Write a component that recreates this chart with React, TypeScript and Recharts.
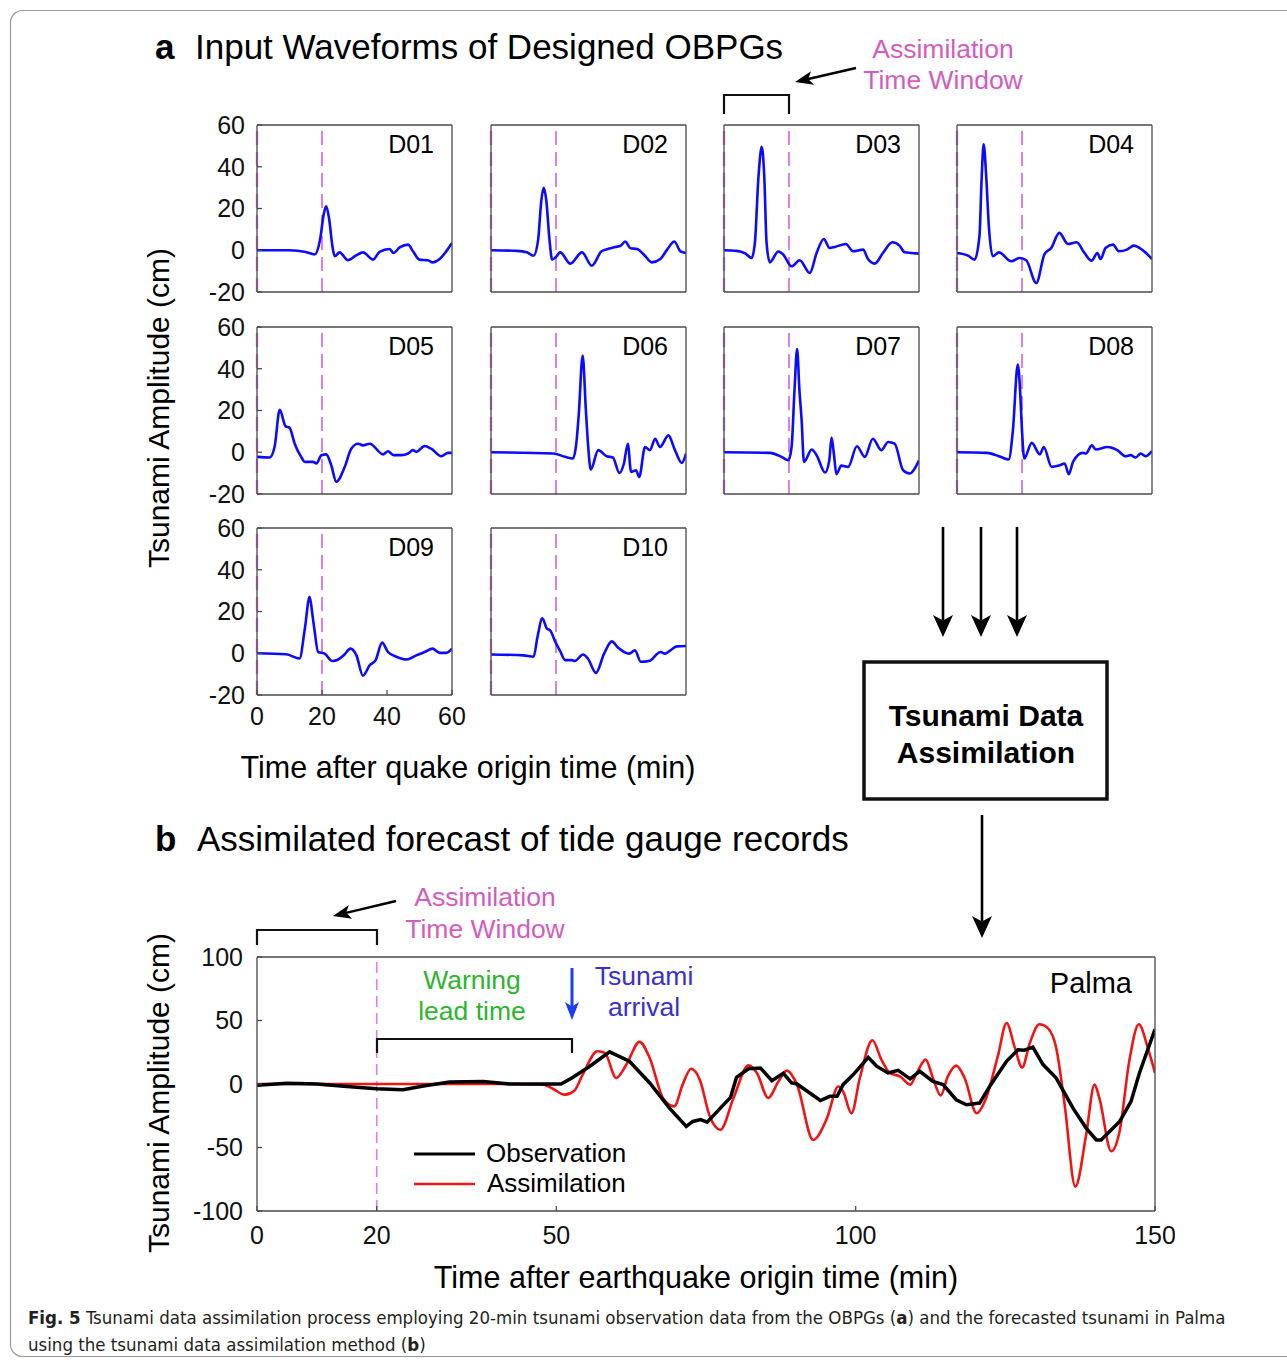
import React from 'react'
import { LineChart, Line, XAxis, YAxis, ReferenceLine } from 'recharts'

type Pt = [number, number]

const FONT = '"Liberation Sans", Arial, Helvetica, sans-serif'
const CAPTION_FONT = '"Liberation Sans Narrow", "DejaVu Sans Condensed", "Open Sans", sans-serif'
const AXIS = '#4a4a4a'
const WAVE = '#0b0bff'
const WINDOW = '#de7fe6'
const PINK = '#d45bbf'
const OBS = '#000000'
const ASSIM = '#f01414'

// panel a: time (min) / amplitude (cm)
const gaugeNames = ['D01', 'D02', 'D03', 'D04', 'D05', 'D06', 'D07', 'D08', 'D09', 'D10']
const gaugeTimeTicks = [0, 20, 40, 60]
const gaugeAmpTicks = [-20, 0, 20, 40, 60]

const d01: Pt[] = [[0, 0], [10, 0], [15, -0.8], [17.7, -2], [19.5, 6], [20.5, 17], [21.3, 21], [22.2, 15], [23.2, 2], [23.9, -2.9], [25.4, -1], [28, -4.8], [30.5, -2.5], [32.6, -1], [35.7, -4.5], [37.7, -0.8], [40.8, 0.6], [42, -1.3], [43.9, 1.4], [46.5, 2.7], [48, -0.5], [50, -4.5], [52.6, -4.8], [54.1, -5.8], [56.2, -4.2], [58, -1], [60, 3.5]]
const d02: Pt[] = [[0, 0], [8, -0.3], [11, -1], [13.1, -2.6], [14.5, 5], [15.5, 24], [16.2, 29.9], [17, 24], [18, 5], [18.8, -4.5], [19.8, -3.5], [21.3, -1], [24.4, -6.4], [28, -1], [31, -7.4], [34, -0.5], [36, 0.6], [38.2, 1.6], [39.8, 2], [41.3, 4.2], [42.9, 1], [45, 0.6], [47, -2], [49.5, -5.8], [52.1, -4.2], [54.2, 0.3], [56.4, 4.2], [58.3, -0.5], [60, -1.3]]
const d03: Pt[] = [[0, 0], [3.9, -0.3], [6.5, -1.5], [8.5, -3.7], [9.5, 3.5], [10.6, 35], [11.6, 49.6], [12.4, 35], [13.1, 3.5], [14.1, -5.8], [16.7, -0.6], [18.2, -2], [20.8, -7.7], [23.3, -4.8], [26.4, -10.9], [28.5, -1.3], [30.7, 5.4], [32.5, 1.1], [34.1, 1.6], [37.5, 3], [39.7, -0.5], [42.8, 0.3], [44.3, -4.2], [46.4, -6.4], [48.9, -1.3], [51.8, 3.8], [54, 2.2], [55.6, -1], [57.6, -1.3], [60, -1.6]]
const d04: Pt[] = [[0, -1.3], [3.4, -2.6], [5.4, -4.5], [6.9, 6.6], [7.6, 35], [8.2, 50.7], [9, 35], [9.8, 11.5], [11, -2.9], [12.9, -1], [16.7, -5.3], [19.3, -3.7], [21.3, -4.8], [24.4, -15.7], [26.9, -2], [29, 1.1], [31.5, 8.3], [34.1, 3], [36.8, 3.8], [39.1, -1], [41.4, -5], [43.2, -1.3], [44.2, -4.2], [45.7, 1.1], [48, 2.7], [49.8, -0.5], [52.3, 0.3], [54.4, 2.2], [56.9, 0.3], [60, -4.2]]
const d05: Pt[] = [[0, -2.2], [3.9, -2.5], [5.4, 2.5], [7, 20.3], [8.8, 12.4], [10, 11.8], [11.6, 4.1], [13.5, -2], [14.7, -4.6], [17.2, -4.6], [18.3, -5.4], [19.8, -1.4], [21.3, -1], [22.8, -6], [24.4, -14.1], [27, -7], [29, 1.7], [31.1, 4.1], [32.6, 3.3], [34.7, 4.1], [38.8, -1], [40.3, 0.5], [42, -1.4], [44.4, -1.4], [46.5, -0.6], [48, 1], [49, 0.2], [51.6, 3], [53.6, 1.7], [56.7, -1.9], [58.8, -0.3], [60, -0.3]]
const d06: Pt[] = [[0, 0], [19.2, -0.6], [22.8, -2.2], [25.2, -3], [26.3, 5], [27, 18], [28.2, 46.3], [29.2, 20], [29.8, 5], [30.7, -8.3], [33, 1], [35.6, -1.9], [37.5, -2.5], [39.5, -9.9], [40.9, -5.4], [42.1, 4.1], [43.1, -9.4], [44.6, -8.6], [45.6, -11.8], [47.4, 2.5], [48.9, 1], [50.5, 6.5], [52, 2.5], [54.6, 8.1], [56.6, 1], [58.7, -5.1], [60, -0.6]]
const d07: Pt[] = [[0, 0], [14.1, -0.3], [17.7, -2.2], [19.8, -3.8], [20.8, 2.5], [21.7, 30], [22.5, 49.4], [23.2, 30], [23.9, 15], [24.6, -4.6], [27, 1.3], [28.5, -1.4], [31.1, -9.7], [32.4, -3.8], [33.1, 7], [33.8, -0.6], [34.6, -10.5], [36.1, -6.4], [38.2, -7], [40.9, 2.9], [43.3, -2.2], [45.8, 6.5], [48.4, 1], [50.5, 4.9], [52.5, 4.1], [55.1, -8.6], [57.1, -10.2], [60, -3.8]]
const d08: Pt[] = [[0, 0], [9.3, -0.3], [13.4, -2.2], [15.9, -3.5], [17.2, 10.5], [18.7, 42], [19.4, 30], [20, 10.5], [20.7, -3], [23, 4.5], [25.5, -1], [26.7, 2.5], [29.1, -7], [31.6, -6.2], [33.1, -5.4], [34.4, -10.5], [35.7, -4.6], [38.7, -0.3], [39.7, -0.6], [41.5, 3.3], [42.7, 1.3], [46.3, 2.5], [49.3, 1], [51.9, -1.9], [53.4, -1.4], [55, -2.5], [56.5, -0.6], [58, -1.9], [60, 0.6]]
const d09: Pt[] = [[0, 0], [9, -0.5], [13.1, -2.5], [14.7, 11.5], [16.2, 27.1], [17.1, 18], [17.7, 11], [18.8, 0.6], [20.8, -0.2], [23.2, -3.7], [25, -3], [27, -0.5], [28.7, 2.2], [30.6, -1], [32.6, -10.8], [34.7, -5.7], [36.5, -3.3], [38.5, 5.1], [40.3, 0.6], [42.9, -1.7], [46, -3], [49, -1], [51.6, 0.6], [54, 2.2], [56.2, 0.2], [58.3, 0.2], [60, 2.2]]
const d10: Pt[] = [[0, -0.6], [10, -1], [13.1, -1.7], [14.3, 7.8], [15.8, 16.7], [17.2, 11.8], [18.2, 11], [19.8, 5.4], [21.3, 1], [22.8, -3.3], [24.8, -3.3], [25.8, -3.7], [28.3, -0.6], [29.8, -2.5], [32.3, -9.4], [34.8, -0.2], [37.2, 5.7], [38.9, 3], [41.5, 0.2], [42.5, -0.2], [44.3, 1.4], [46.1, -4.1], [48.6, -3.7], [52.2, 0.6], [53.5, -0.2], [55.2, 1.4], [57.2, 3.3], [60, 3.5]]

const gaugeWaves = [d01, d02, d03, d04, d05, d06, d07, d08, d09, d10]

// panel b: Palma tide gauge
const palmaTimeTicks = [0, 20, 50, 100, 150]
const palmaAmpTicks = [-100, -50, 0, 50, 100]

const palmaObserved: Pt[] = [[0, -1], [5, 0.5], [10, 0], [15, -2], [20, -3.7], [24.4, -4.5], [27.8, -1.5], [32.2, 1.6], [37.8, 2], [42.2, 0], [46.7, 0], [50.8, 0], [52.8, 5.3], [55.6, 14], [58.9, 25.3], [62.2, 17.9], [65.6, 0.8], [68.9, -19], [71.7, -33.4], [72.8, -29.5], [74.1, -28], [75.2, -30], [77.4, -19], [79.1, -10.5], [80.1, 5.3], [82.1, 12], [84.1, 12.6], [86, 2.6], [87.9, 8.4], [89.3, 0.8], [90.2, 0], [94.1, -13], [95.7, -9.7], [96.9, -9.7], [97.9, -0.5], [99.6, 7.4], [102.1, 21], [103.5, 14], [105.4, 8.7], [107.1, 10.8], [109.1, 4], [110.7, 10], [112.9, 2], [114.6, -0.5], [116.8, -12.4], [118.5, -16.3], [120.7, -15], [122.4, -1.8], [125.2, 17.9], [127.1, 27], [128.2, 26.6], [129.6, 29], [131.3, 15.3], [133.5, 4.7], [136.3, -19], [138.5, -34.7], [140.2, -44], [141, -44], [144.1, -29.5], [146, -13.7], [147.4, 8.7], [150, 43]]
const palmaAssimilated: Pt[] = [[0, 0], [10, 0], [20, 0], [30, 0], [40, 0], [47.8, -0.5], [49.4, -3.7], [51.4, -8.4], [53, -5.3], [54.4, 7.4], [56.9, 25.8], [58.1, 24.5], [60, 4.7], [61.7, 15.3], [63.9, 33.2], [65.6, 20.5], [67.8, -11], [69.7, -17.6], [71.1, -0.5], [72.5, 12], [74, 3], [75.6, -25], [77.4, -36], [79.6, -11], [82.1, 14.7], [83.5, 8.7], [85.4, -11], [87.1, 2], [88.5, 10.5], [90.2, -0.5], [92.9, -44], [95.2, -27], [97.1, -2], [97.9, -5.8], [99.3, -23], [100.7, 4.7], [102.8, 34.5], [104.3, 19.2], [105.7, 8.7], [107.4, 6], [109.1, -0.5], [110.2, 8.7], [111.7, 19.2], [112.9, 4.7], [114.2, -9], [115.4, 6], [116.8, 14.5], [118.2, 4.7], [120.2, -23], [121.8, -11], [123.8, 23], [125.2, 48], [126.6, 28.4], [127.8, 13], [129.1, 32.4], [130.7, 47], [132.1, 44], [133.5, 28.4], [134.9, -16], [136.7, -80.8], [138.5, -40], [139.9, -0.5], [140.7, -11], [142.7, -53], [144.1, -37], [145.7, 18], [147.3, 47], [148.8, 28.4], [150, 8.7]]

const toRows = (pts: Pt[]) => pts.map(([t, v]) => ({ t, v }))

// plot-area placement of the small panels
const colLeft = [257, 491, 724, 957]
const rowTop = [125, 327, 528]
const PW = 195
const PH = 167

const tickFont = { fontSize: 25, fill: '#111', fontFamily: FONT }

// MATLAB-style box: bottom/left axes carry labels, top/right 1px axes only draw frame + inward ticks
function Gauge({ idx }: { idx: number }) {
  const row = Math.floor(idx / 4)
  const col = idx % 4
  const showY = col === 0
  const showX = col === 0 && row === 2
  const rows = toRows(gaugeWaves[idx])
  return (
    <div style={{ position: 'absolute', left: colLeft[col] - 60, top: rowTop[row] - 20 }}>
      <LineChart width={60 + PW + 20} height={20 + PH + 45} data={rows}
        margin={{ top: 19, right: 19, bottom: 0, left: 0 }}>
        <XAxis dataKey="t" type="number" domain={[0, 60]} ticks={gaugeTimeTicks} interval={0} allowDataOverflow
          height={45} stroke={AXIS} strokeWidth={1.3} tickSize={-5} tickMargin={17}
          tick={showX ? tickFont : false} />
        <XAxis xAxisId="top" orientation="top" dataKey="t" type="number" domain={[0, 60]} ticks={gaugeTimeTicks}
          interval={0} allowDataOverflow height={1} stroke={AXIS} strokeWidth={1.3} tickSize={-5} tick={false} />
        <YAxis type="number" domain={[-20, 60]} ticks={gaugeAmpTicks} interval={0} allowDataOverflow width={60}
          stroke={AXIS} strokeWidth={1.3} tickSize={-5} tickMargin={17} tick={showY ? tickFont : false} />
        <YAxis yAxisId="right" orientation="right" type="number" domain={[-20, 60]} ticks={gaugeAmpTicks}
          interval={0} allowDataOverflow width={1} stroke={AXIS} strokeWidth={1.3} tickSize={-5} tick={false} />
        <ReferenceLine x={0} stroke={WINDOW} strokeWidth={2.4} strokeDasharray="14 7" />
        <ReferenceLine x={20} stroke={WINDOW} strokeWidth={2} strokeDasharray="14 7" />
        <Line xAxisId="top" yAxisId="right" dataKey="v" stroke="none" dot={false} activeDot={false}
          isAnimationActive={false} />
        <Line dataKey="v" type="monotone" stroke={WAVE} strokeWidth={2.6} dot={false} isAnimationActive={false} />
      </LineChart>
    </div>
  )
}

function Palma() {
  const obs = toRows(palmaObserved)
  return (
    <div style={{ position: 'absolute', left: 257 - 70, top: 957 - 20 }}>
      <LineChart width={70 + 898 + 20} height={20 + 254 + 50} margin={{ top: 19, right: 19, bottom: 0, left: 0 }}>
        <XAxis dataKey="t" type="number" domain={[0, 150]} ticks={palmaTimeTicks} interval={0} allowDataOverflow
          height={50} stroke={AXIS} strokeWidth={1.3} tickSize={-5} tickMargin={20} tick={tickFont} />
        <XAxis xAxisId="top" orientation="top" dataKey="t" type="number" domain={[0, 150]} ticks={palmaTimeTicks}
          interval={0} allowDataOverflow height={1} stroke={AXIS} strokeWidth={1.3} tickSize={-5} tick={false} />
        <YAxis type="number" domain={[-100, 100]} ticks={palmaAmpTicks} interval={0} allowDataOverflow width={70}
          stroke={AXIS} strokeWidth={1.3} tickSize={-5} tickMargin={19} tick={tickFont} />
        <YAxis yAxisId="right" orientation="right" type="number" domain={[-100, 100]} ticks={palmaAmpTicks}
          interval={0} allowDataOverflow width={1} stroke={AXIS} strokeWidth={1.3} tickSize={-5} tick={false} />
        <ReferenceLine x={20} stroke={WINDOW} strokeWidth={1.6} strokeDasharray="11 6" />
        <Line data={obs} xAxisId="top" yAxisId="right" dataKey="v" stroke="none" dot={false} activeDot={false}
          isAnimationActive={false} />
        <Line data={toRows(palmaAssimilated)} dataKey="v" type="monotone" stroke={ASSIM} strokeWidth={2.6}
          dot={false} isAnimationActive={false} />
        <Line data={obs} dataKey="v" type="linear" stroke={OBS} strokeWidth={3.5}
          dot={false} isAnimationActive={false} />
      </LineChart>
    </div>
  )
}

function Arrow({ x1, y1, x2, y2, color = '#000', width = 2.5, head = 20, half = 8 }:
  { x1: number; y1: number; x2: number; y2: number; color?: string; width?: number; head?: number; half?: number }) {
  const len = Math.hypot(x2 - x1, y2 - y1)
  const ux = (x2 - x1) / len
  const uy = (y2 - y1) / len
  const bx = x2 - ux * head
  const by = y2 - uy * head
  const nx = bx + ux * head * 0.25
  const ny = by + uy * head * 0.25
  return (
    <g>
      <line x1={x1} y1={y1} x2={nx} y2={ny} stroke={color} strokeWidth={width} />
      <polygon fill={color}
        points={`${x2},${y2} ${bx - uy * half},${by + ux * half} ${nx},${ny} ${bx + uy * half},${by - ux * half}`} />
    </g>
  )
}

function Overlay() {
  const t = { fontFamily: FONT, dominantBaseline: 'central' as const }
  const cap = { fontFamily: CAPTION_FONT, fontSize: 18.5, fill: '#231f20', dominantBaseline: 'central' as const }
  return (
    <svg width={1287} height={1362} style={{ position: 'absolute', left: 0, top: 0, pointerEvents: 'none' }}>
      <rect x={10.5} y={10.5} width={1300} height={1346} rx={12} fill="none" stroke="#9a9a9a" strokeWidth={1.2} />

      <text x={155} y={46} fontSize={35} fontWeight="bold" {...t}>a</text>
      <text x={195} y={46} fontSize={35} {...t}>Input Waveforms of Designed OBPGs</text>
      <text x={943} y={49} fontSize={26.5} fill={PINK} textAnchor="middle" {...t}>Assimilation</text>
      <text x={943} y={80} fontSize={26.5} fill={PINK} textAnchor="middle" {...t}>Time Window</text>
      <path d="M724 114 V95 H789 V114" fill="none" stroke="#111" strokeWidth={2.2} />
      <Arrow x1={856} y1={68} x2={795} y2={82} head={18} half={7} width={2.4} />

      {gaugeNames.map((n, i) => (
        <text key={n} x={colLeft[i % 4] + 177} y={rowTop[Math.floor(i / 4)] + 19} fontSize={25} textAnchor="end" {...t}>{n}</text>
      ))}

      <text x={158} y={408} fontSize={30} textAnchor="middle" transform="rotate(-90 158 408)" {...t}>Tsunami Amplitude (cm)</text>
      <text x={468} y={767} fontSize={30.5} textAnchor="middle" {...t}>Time after quake origin time (min)</text>

      <Arrow x1={943} y1={527} x2={943} y2={637} head={22} half={10} width={2.6} />
      <Arrow x1={981} y1={527} x2={981} y2={637} head={22} half={10} width={2.6} />
      <Arrow x1={1017} y1={527} x2={1017} y2={637} head={22} half={10} width={2.6} />
      <rect x={864} y={662} width={243} height={137} fill="none" stroke="#111" strokeWidth={3.5} />
      <text x={986} y={715} fontSize={30} fontWeight="bold" textAnchor="middle" {...t}>Tsunami Data</text>
      <text x={986} y={752} fontSize={30} fontWeight="bold" textAnchor="middle" {...t}>Assimilation</text>
      <Arrow x1={982} y1={815} x2={982} y2={938} head={22} half={10} width={2.6} />

      <text x={155} y={838} fontSize={35} fontWeight="bold" {...t}>b</text>
      <text x={197} y={838} fontSize={35} {...t}>Assimilated forecast of tide gauge records</text>
      <text x={485} y={897} fontSize={26.5} fill={PINK} textAnchor="middle" {...t}>Assimilation</text>
      <text x={485} y={929} fontSize={26.5} fill={PINK} textAnchor="middle" {...t}>Time Window</text>
      <path d="M257 945 V930 H377 V945" fill="none" stroke="#111" strokeWidth={2.2} />
      <Arrow x1={396} y1={901} x2={333} y2={916} head={18} half={7} width={2.4} />

      <text x={472} y={980} fontSize={26.5} fill="#2db52d" textAnchor="middle" {...t}>Warning</text>
      <text x={472} y={1011} fontSize={26.5} fill="#2db52d" textAnchor="middle" {...t}>lead time</text>
      <path d="M377 1053 V1039 H572 V1053" fill="none" stroke="#111" strokeWidth={2.2} />
      <Arrow x1={572} y1={968} x2={572} y2={1020} color="#1a3cff" head={18} half={7} width={3} />
      <text x={644} y={976} fontSize={26.5} fill="#3a30d0" textAnchor="middle" {...t}>Tsunami</text>
      <text x={644} y={1007} fontSize={26.5} fill="#3a30d0" textAnchor="middle" {...t}>arrival</text>
      <text x={1132} y={983} fontSize={29} textAnchor="end" {...t}>Palma</text>

      <line x1={414} y1={1154} x2={475} y2={1154} stroke={OBS} strokeWidth={3} />
      <text x={486} y={1153} fontSize={26} {...t}>Observation</text>
      <line x1={414} y1={1184} x2={475} y2={1184} stroke={ASSIM} strokeWidth={2.6} />
      <text x={487} y={1183} fontSize={26} {...t}>Assimilation</text>

      <text x={158} y={1093} fontSize={30} textAnchor="middle" transform="rotate(-90 158 1093)" {...t}>Tsunami Amplitude (cm)</text>
      <text x={696} y={1277} fontSize={30.5} textAnchor="middle" {...t}>Time after earthquake origin time (min)</text>

      <text x={28} y={1317} {...cap}>
        <tspan fontWeight="bold">Fig. 5</tspan>
        {'  Tsunami data assimilation process employing 20-min tsunami observation data from the OBPGs ('}
        <tspan fontWeight="bold">a</tspan>
        {') and the forecasted tsunami in Palma'}
      </text>
      <text x={28} y={1344} {...cap}>
        using the tsunami data assimilation method (<tspan fontWeight="bold">b</tspan>)
      </text>
    </svg>
  )
}

export default function App() {
  return (
    <div style={{ position: 'absolute', left: 0, top: 0, width: 1287, height: 1362, background: '#fff', overflow: 'hidden', fontFamily: FONT }}>
      {gaugeNames.map((n, i) => <Gauge key={n} idx={i} />)}
      <Palma />
      <Overlay />
    </div>
  )
}
